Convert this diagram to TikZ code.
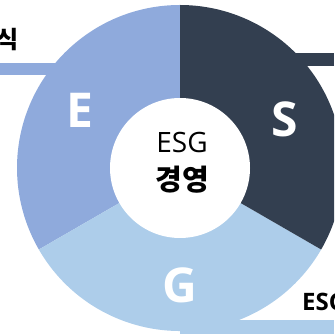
\documentclass[tikz,border=0pt]{standalone}
\usepackage{fontspec}
\setmainfont{Open Sans}
\newfontfamily\kr{Noto Sans CJK KR}
\usetikzlibrary{calc}
\definecolor{envblue}{HTML}{8FAADC}
\definecolor{socnavy}{HTML}{333F50}
\definecolor{govblue}{HTML}{ADCDEA}

\begin{document}
\begin{tikzpicture}
  [x=1pt,y=1pt,every node/.style={inner sep=0pt},
   letter/.style={text=white,font=\fontsize{48}{48}\selectfont\bfseries},
   tag/.style={text=black,font=\fontsize{24}{24}\selectfont\bfseries}]
  \useasboundingbox (0,0) rectangle (334,334);
  \clip (0,0) rectangle (334,334);
  \coordinate (c) at (180,166);
  \coordinate (eend) at (0,265);
  \coordinate (send) at (334,274.5);
  \coordinate (gend) at (334,7);
  % bars running out to the side labels
  \draw[envblue,line width=12] (eend) -- (c |- eend);
  \draw[socnavy,line width=13] (send) -- (c |- send);
  \draw[govblue,line width=14] (gend) -- (c |- gend);
  \foreach \from/\to/\col in {90/210/envblue,210/330/govblue,-30/90/socnavy}
    \fill[\col] (c) -- ++(\from:163) arc[start angle=\from,end angle=\to,radius=163] -- cycle;
  \node (core) [circle,fill=white,minimum size=140] at (c) {};
  \node (esg) at (182,191) {\fontsize{28}{28}\selectfont ESG};
  \node (mgmt) at (182,154) {\kr\fontsize{29}{29}\selectfont\bfseries 경영};
  \node (e) [letter] at ($(c)+(150:115)$) {E};
  \node (s) [letter] at ($(c)+(25:116)$) {S};
  \node (g) [letter] at ($(c)+(270:117)$) {G};
  \node (envtag) [tag,anchor=east] at (19,294) {\kr 식};
  \node (govtag) [tag,anchor=west] at (302,32) {ESG};
\end{tikzpicture}
\end{document}
